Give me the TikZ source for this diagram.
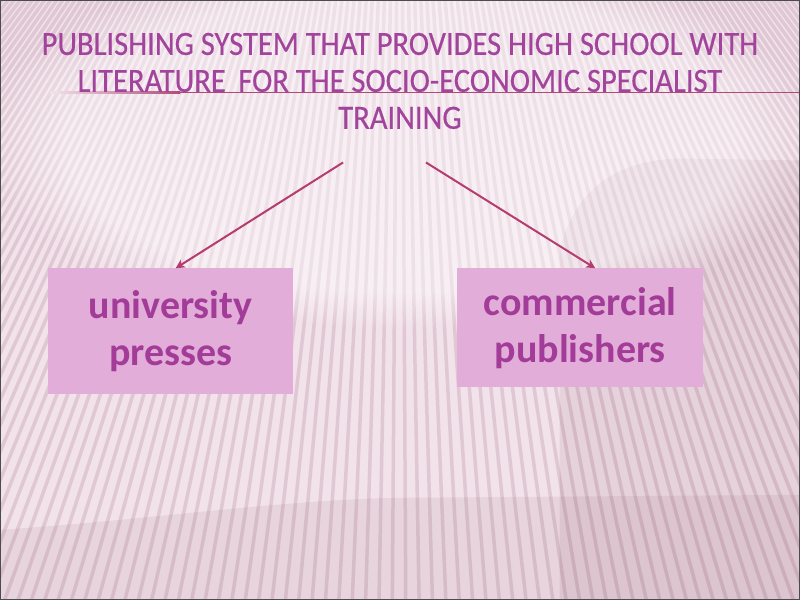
\documentclass[tikz,border=0pt]{standalone}
\usepackage{fontspec}
\setmainfont{Carlito}
\newfontfamily\titlefont[FakeStretch=0.9,FakeBold=0.4]{Carlito}
\usetikzlibrary{arrows.meta, positioning, fadings}
\definecolor{slidebg}{HTML}{F2E2EA}
\definecolor{stripecol}{HTML}{DBC1CF}
\definecolor{titlecol}{HTML}{A2449C}
\definecolor{boxfill}{HTML}{E2AED9}
\definecolor{boxtext}{HTML}{A33C98}
\definecolor{arrowcol}{HTML}{B53C6E}
\definecolor{rulecol}{HTML}{B04A78}
\tikzset{
  titletext/.style={font=\titlefont\fontsize{34}{37}\selectfont,text=titlecol,align=center,inner sep=0pt},
  pbox/.style={rectangle,fill=boxfill,minimum width=246pt,align=center,inner sep=0pt,
    text=boxtext,font=\fontsize{40}{47}\selectfont\bfseries},
  stripe/.style={draw=stripecol,line width=3.5pt,opacity=0.8},
  arr/.style={-{Stealth[length=9pt,width=9pt,inset=2.5pt]},line width=2pt,draw=arrowcol}
}

\begin{document}
\begin{tikzpicture}[x=1pt,y=-1pt]

  % background
  \fill[slidebg] (0,0) rectangle (800,600);
  \begin{scope}
    \clip (0,0) rectangle (800,600);
    \foreach \x in {-700,-686,...,1500}
      \draw[stripe] (400,-500) -- (\x,650);
    \fill[black!60!purple,opacity=0.07] (560,250) .. controls (575,190) and (615,160) .. (680,158)
      -- (800,160) -- (800,600) -- (560,600) -- cycle;
    \fill[black!60!purple,opacity=0.06] (0,530) .. controls (150,520) and (280,500) .. (400,498)
      -- (800,495) -- (800,600) -- (0,600) -- cycle;
    \fill[white,opacity=0.45,path fading=circle with fuzzy edge 20 percent] (400,140) ellipse (420 and 190);
  \end{scope}
  \draw[black!70,line width=1.5pt] (0,0) rectangle (800,600);

  % title and rule
  \shade[left color=slidebg,right color=rulecol] (50,91.4) rectangle (180,92.6);
  \fill[rulecol] (180,91.4) rectangle (800,92.6);
  \node[titletext,anchor=north] (title) at (400,32)
    {PUBLISHING SYSTEM THAT PROVIDES HIGH SCHOOL WITH\\
     LITERATURE\, FOR THE SOCIO-ECONOMIC SPECIALIST\\
     TRAINING};

  % boxes
  \node[pbox,minimum height=126pt,anchor=north west] (ubox) at (47,268) {university\\ presses};
  \node[pbox,minimum height=119pt,anchor=north west] (cbox) at ([xshift=164pt]ubox.north east) {commercial\\ publishers};

  \coordinate (lstart) at (343,162);
  \coordinate (rstart) at (426,162);
  \draw[arr] (lstart) -- ([xshift=5pt]ubox.north);
  \draw[arr] (rstart) -- ([xshift=15pt]cbox.north);

\end{tikzpicture}
\end{document}
